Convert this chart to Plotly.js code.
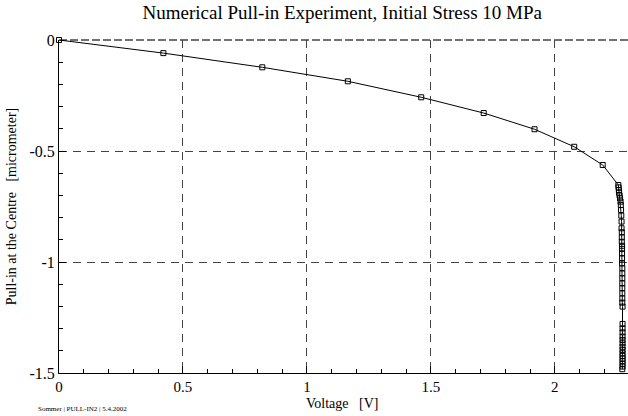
<!DOCTYPE html>
<html>
<head>
<meta charset="utf-8">
<script src="https://cdn.plot.ly/plotly-3.0.1.min.js"></script>
<style>html,body{margin:0;padding:0;background:#fff;}#chart{width:628px;height:416px;}</style>
</head>
<body>
<div id="chart"></div>
<script>
// Voltage [V]
const voltage = [0, 0.421, 0.820, 1.165, 1.461, 1.713, 1.918, 2.078, 2.193,
  2.256, 2.257, 2.258, 2.259, 2.261, 2.263, 2.265, 2.266, 2.267, 2.268, 2.269,
  2.269, 2.270, 2.270, 2.270, 2.271, 2.271, 2.271, 2.271, 2.271, 2.272, 2.272,
  2.272, 2.272, 2.272, 2.272, 2.272, 2.272, 2.273, 2.273, 2.273,
  2.273, 2.273, 2.273, 2.273, 2.273, 2.273, 2.273, 2.273, 2.273, 2.273, 2.273, 2.273, 2.272];
// Pull-in at the centre [micrometer]
const pullIn = [0, -0.059, -0.123, -0.186, -0.258, -0.329, -0.402, -0.481, -0.563,
  -0.653, -0.664, -0.676, -0.688, -0.700, -0.713, -0.728, -0.743, -0.766, -0.791, -0.818,
  -0.848, -0.866, -0.889, -0.909, -0.927, -0.941, -0.961, -0.983, -1.006, -1.028, -1.051,
  -1.073, -1.096, -1.118, -1.141, -1.164, -1.183, -1.201, -1.279, -1.299,
  -1.317, -1.336, -1.351, -1.366, -1.382, -1.396, -1.411, -1.423, -1.435, -1.447, -1.459, -1.471, -1.483];

const xTicks = [0, 0.5, 1, 1.5, 2];
const xTickText = ['0', '0.5', '1', '1.5', '2'];
const yTicks = [0, -0.5, -1, -1.5];
const yTickText = ['0', '-0.5', '-1', '-1.5'];

const serif = '"Liberation Serif", "Times New Roman", "DejaVu Serif", serif';

const trace = {
  x: voltage, y: pullIn, type: 'scatter', mode: 'lines+markers',
  line: {color: '#000', width: 1},
  marker: {symbol: 'square-open', size: 5, color: '#000', line: {width: 1, color: '#000'}},
  cliponaxis: false, hoverinfo: 'none'
};

const layout = {
  width: 628, height: 416,
  margin: {l: 59, r: 0, t: 40, b: 43},
  paper_bgcolor: '#fff', plot_bgcolor: '#fff',
  showlegend: false,
  font: {family: serif, color: '#000'},
  title: {text: 'Numerical Pull-in Experiment, Initial Stress 10 MPa',
    font: {family: serif, size: 19, color: '#000'}, x: 0.545, xanchor: 'center', y: 0.97, yanchor: 'middle'},
  xaxis: {
    range: [0, 2.295], tickmode: 'array', tickvals: xTicks, ticktext: xTickText,
    ticks: 'inside', ticklen: 7, tickwidth: 1, tickcolor: '#000',
    minor: {dtick: 0.1, tick0: 0, ticks: 'inside', ticklen: 4, tickcolor: '#000', showgrid: false},
    showline: true, linecolor: '#000', linewidth: 1, zeroline: false,
    showgrid: true, gridcolor: '#444', griddash: '8px,6px', gridwidth: 1,
    tickfont: {family: serif, size: 15, color: '#000'}
  },
  yaxis: {
    range: [-1.5, 0], tickmode: 'array', tickvals: yTicks, ticktext: yTickText,
    ticks: 'inside', ticklen: 7, tickwidth: 1, tickcolor: '#000',
    minor: {dtick: 0.1, tick0: 0, ticks: 'inside', ticklen: 4, tickcolor: '#000', showgrid: false},
    showline: true, linecolor: '#000', linewidth: 1, zeroline: false,
    showgrid: true, gridcolor: '#444', griddash: '8px,6px', gridwidth: 1,
    tickfont: {family: serif, size: 16, color: '#000'},
    title: {text: 'Pull-in at the Centre\u00a0\u00a0\u00a0[micrometer]', font: {family: serif, size: 14, color: '#000'}, standoff: 9}
  },
  shapes: [{type: 'line', xref: 'paper', yref: 'paper', x0: 0, x1: 1, y0: 1, y1: 1,
    line: {color: '#444', width: 1.5, dash: '8px,3px'}, layer: 'below'}],
  annotations: [{
    text: 'Voltage\u00a0\u00a0\u00a0[V]', xref: 'paper', yref: 'paper',
    x: 0.498, y: -0.091, xanchor: 'center', yanchor: 'middle', showarrow: false,
    font: {family: serif, size: 14, color: '#000'}
  }, {
    text: 'Sommer | PULL-IN2 | 5.4.2002', xref: 'paper', yref: 'paper',
    x: -0.04, y: -0.125, xanchor: 'left', yanchor: 'bottom', showarrow: false,
    font: {family: serif, size: 7, color: '#000'}
  }]
};

Plotly.newPlot('chart', [trace], layout, {displayModeBar: false, staticPlot: true});
</script>
</body>
</html>
